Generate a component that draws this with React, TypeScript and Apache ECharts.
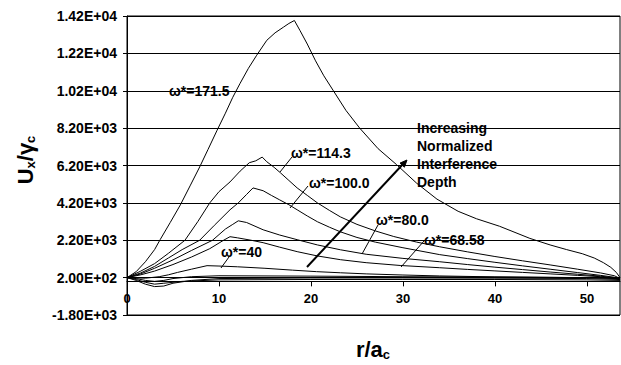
import React, { useEffect, useRef } from 'react';
import * as echarts from 'echarts';

// Axis ticks
const yTicks = [-1800, 200, 2200, 4200, 6200, 8200, 10200, 12200, 14200];
const xTicks = [0, 10, 20, 30, 40, 50];
const xMax = 53.6;

// ω* = 171.5
const w1715X = [0, 1, 2, 3, 3.6, 4.7, 5.8, 6.9, 7.9, 8.8, 9.8, 10.7, 11.5, 12.3, 13.2, 14.1, 15.2, 16.1, 17, 17.6, 18.2, 18.8, 19.6, 20.5, 21.4, 22.4, 23.8, 25.3, 27.3, 29.3, 31.5, 33.7, 36, 38, 40.5, 43.8, 46, 47.8, 49.5, 50.8, 51.8, 52.6, 53.2, 53.6];
const w1715Y = [200, 520, 1050, 1700, 2230, 3150, 4090, 5150, 6120, 7050, 8090, 9000, 9850, 10600, 11400, 12100, 12900, 13300, 13600, 13800, 13960, 13430, 12700, 11800, 11000, 10230, 9150, 8200, 7100, 6250, 5250, 4400, 3750, 3350, 2950, 2300, 1950, 1700, 1480, 1250, 1000, 750, 480, 200];

// ω* = 114.3
const w1143X = [0, 1.5, 3, 4.5, 6.3, 7.7, 9, 10, 11.2, 12.3, 13.3, 14, 14.7, 15.2, 16, 16.7, 17.6, 18.5, 19.6, 20.7, 22, 23.2, 25, 27, 29, 31.5, 34, 37, 40, 43, 46, 49, 51.5, 53, 53.6];
const w1143Y = [200, 550, 950, 1500, 2200, 3200, 4200, 4800, 5320, 5900, 6350, 6450, 6650, 6400, 6100, 5800, 5400, 5000, 4600, 4200, 3800, 3450, 3050, 2700, 2400, 2100, 1850, 1580, 1330, 1100, 880, 650, 450, 300, 150];

// ω* = 100.0
const w1000X = [0, 1.5, 3, 4.5, 6, 7.9, 9.5, 11.2, 12.1, 13, 13.7, 14.8, 15.7, 16.6, 17.6, 18.5, 19.6, 20.7, 22, 23.2, 25, 27, 30, 34, 37, 40, 43, 46, 49, 51.5, 53, 53.6];
const w1000Y = [200, 450, 800, 1250, 1700, 2200, 3000, 3830, 4200, 4650, 5000, 4850, 4600, 4360, 4100, 3830, 3500, 3190, 2900, 2650, 2350, 2100, 1800, 1430, 1220, 1020, 830, 650, 470, 320, 220, 120];

// ω* = 80.0
const w800X = [0, 1.5, 3, 5, 7, 9.3, 10.7, 11.5, 12.1, 13, 14.8, 16.6, 18.5, 20.7, 23.2, 26, 30, 34, 37, 40, 43, 46, 49, 51.5, 53, 53.6];
const w800Y = [200, 400, 700, 1150, 1650, 2200, 2800, 3050, 3240, 3150, 2760, 2480, 2230, 1950, 1690, 1450, 1230, 1050, 900, 760, 630, 500, 380, 280, 180, 100];

// ω* = 68.58
const w6858X = [0, 1.5, 3, 5, 7, 9, 10.5, 11.2, 12, 13.5, 14.8, 16.6, 18.5, 20.7, 23.2, 26, 29.7, 34, 37, 40, 43, 46, 49, 51.5, 53, 53.6];
const w6858Y = [200, 350, 550, 900, 1300, 1750, 2200, 2390, 2330, 2200, 2070, 1830, 1590, 1360, 1160, 1000, 850, 730, 640, 560, 480, 400, 320, 250, 170, 100];

// ω* = 40
const w40X = [0, 1, 2, 3.5, 4.5, 5.5, 7, 8.7, 10, 12, 15, 18, 20.6, 23.2, 26, 30, 34, 40, 45, 50, 53.6];
const w40Y = [200, 180, 170, 250, 350, 480, 650, 840, 820, 780, 700, 600, 520, 460, 400, 340, 290, 240, 220, 200, 150];

// lower curves (small interference depth)
const low1X = [0, 1, 2, 3, 4, 5, 7, 10, 20, 30, 40, 50, 53.6];
const low1Y = [200, 150, 50, 0, 50, 150, 250, 300, 280, 250, 230, 200, 150];
const low2X = [0, 1, 2, 3, 4, 5, 7, 10, 20, 30, 40, 50, 53.6];
const low2Y = [200, 50, -150, -280, -250, -100, 50, 150, 180, 180, 170, 150, 100];
const low3X = [0, 1, 2, 3, 4, 6, 10, 20, 30, 40, 50, 53.6];
const low3Y = [200, 100, -50, -150, -100, 0, 80, 100, 100, 100, 80, 50];

const curves: [number[], number[]][] = [
  [w1715X, w1715Y],
  [w1143X, w1143Y],
  [w1000X, w1000Y],
  [w800X, w800Y],
  [w6858X, w6858Y],
  [w40X, w40Y],
  [low1X, low1Y],
  [low2X, low2Y],
  [low3X, low3Y],
];

const FONT = 'Liberation Sans';
const W = 621;
const H = 365;
const GRID = { left: 127, right: 1, top: 16, bottom: 50 };

const fmtE = (v: number) =>
  v
    .toExponential(2)
    .toUpperCase()
    .replace(/E([+-])(\d+)$/, (_m, s, d) => 'E' + s + (d.length < 2 ? '0' + d : d));

const label = (text: string, x: number, y: number) => ({
  type: 'text',
  x,
  y,
  silent: true,
  z: 10,
  style: {
    text,
    fill: '#000',
    fontSize: 14,
    fontWeight: 'bold',
    fontFamily: FONT,
    align: 'left',
    verticalAlign: 'middle',
    textAlign: 'left',
    textVerticalAlign: 'middle',
  },
});

const leader = (x1: number, y1: number, x2: number, y2: number, w = 1) => ({
  type: 'line',
  silent: true,
  z: 10,
  shape: { x1, y1, x2, y2 },
  style: { stroke: '#000', lineWidth: w },
});

export default function App() {
  const ref = useRef<HTMLDivElement>(null);
  useEffect(() => {
    const chart = echarts.init(ref.current!, undefined, { renderer: 'svg' });
    const yBase = yTicks[0];
    const yTop = yTicks[yTicks.length - 1];
    const ySpan = yTop - yBase;
    const yStep = yTicks[1] - yTicks[0];
    const gridH = H - GRID.top - GRID.bottom;
    // place the x axis at value 0 of the y scale
    const xAxisOffset = -(gridH * (0 - yBase)) / ySpan;
    chart.setOption({
      animation: false,
      backgroundColor: '#fff',
      grid: {
        ...GRID,
        show: true,
        borderColor: '#000',
        borderWidth: 1,
        backgroundColor: 'transparent',
      },
      xAxis: {
        type: 'value',
        position: 'bottom',
        offset: xAxisOffset,
        min: xTicks[0],
        max: xMax,
        interval: xTicks[1] - xTicks[0],
        axisLine: { show: true, onZero: false, lineStyle: { color: '#000', width: 1 } },
        axisTick: { show: true, length: 5, lineStyle: { color: '#000' }, customValues: xTicks },
        axisLabel: {
          color: '#000',
          fontSize: 13,
          fontWeight: 'bold',
          fontFamily: FONT,
          margin: 11,
          customValues: xTicks,
          formatter: (v: number) => (xTicks.includes(v) ? String(v) : ''),
        },
        splitLine: { show: false },
      },
      yAxis: [
        {
          type: 'value',
          min: 0,
          max: ySpan,
          interval: yStep,
          axisLine: { show: true, lineStyle: { color: '#000', width: 1 } },
          axisTick: { show: true, length: 4, lineStyle: { color: '#000' } },
          axisLabel: {
            color: '#000',
            fontSize: 14,
            fontWeight: 'bold',
            fontFamily: FONT,
            margin: 10,
            formatter: (v: number) => fmtE(v + yBase),
          },
          splitLine: { show: true, lineStyle: { color: '#000', width: 1 } },
        },
        {
          type: 'value',
          show: false,
          min: yBase,
          max: yTop,
          splitLine: { show: false },
        },
      ],
      series: curves.map(([xs, ys], i) => ({
        type: 'line',
        name: 'c' + i,
        xAxisIndex: 0,
        yAxisIndex: 1,
        data: xs.map((x, j) => [x, ys[j]]),
        showSymbol: false,
        symbol: 'none',
        silent: true,
        lineStyle: { color: '#000', width: 1 },
        z: 5,
      })),
      graphic: [
        {
          type: 'text',
          x: 25,
          y: 160,
          rotation: Math.PI / 2,
          silent: true,
          style: {
            text: '{a|U}{b|x}{a|/γ}{b|c}',
            fill: '#000',
            align: 'center',
            verticalAlign: 'middle',
            textAlign: 'center',
            textVerticalAlign: 'middle',
            rich: {
              a: { fontSize: 22, fontWeight: 'bold', fontFamily: FONT, lineHeight: 24, fill: '#000' },
              b: { fontSize: 13, fontWeight: 'bold', fontFamily: FONT, lineHeight: 13, verticalAlign: 'bottom', fill: '#000' },
            },
          },
        },
        {
          type: 'text',
          x: 373,
          y: 349,
          silent: true,
          style: {
            text: '{a|r/a}{b|c}',
            fill: '#000',
            align: 'center',
            verticalAlign: 'middle',
            textAlign: 'center',
            textVerticalAlign: 'middle',
            rich: {
              a: { fontSize: 22, fontWeight: 'bold', fontFamily: FONT, lineHeight: 24, fill: '#000' },
              b: { fontSize: 13, fontWeight: 'bold', fontFamily: FONT, lineHeight: 13, verticalAlign: 'bottom', fill: '#000' },
            },
          },
        },
        label('ω*=171.5', 169, 91),
        label('ω*=114.3', 291, 153),
        label('ω*=100.0', 309, 183),
        label('ω*=80.0', 376, 220),
        label('ω*=68.58', 424, 240),
        label('ω*=40', 221, 252),
        {
          type: 'text',
          x: 417,
          y: 119,
          silent: true,
          z: 10,
          style: {
            text: 'Increasing\nNormalized\nInterference\nDepth',
            fill: '#000',
            fontSize: 14,
            fontWeight: 'bold',
            fontFamily: FONT,
            lineHeight: 18,
            align: 'left',
            verticalAlign: 'top',
            textAlign: 'left',
            textVerticalAlign: 'top',
          },
        },
        leader(292, 157, 280, 172),
        leader(308, 186, 290, 208),
        leader(378, 225, 362, 254),
        leader(424, 241, 401, 267),
        leader(229, 257, 221, 268),
        leader(307, 267, 404, 163, 2),
        {
          type: 'polygon',
          silent: true,
          z: 10,
          shape: { points: [[407, 160], [404.4, 167.2], [400, 163.1]] },
          style: { fill: '#000', stroke: '#000', lineWidth: 1 },
        },
      ],
    });
    return () => chart.dispose();
  }, []);
  return (
    <div
      ref={ref}
      style={{ position: 'fixed', left: 0, top: 0, width: W, height: H, background: '#fff' }}
    />
  );
}
